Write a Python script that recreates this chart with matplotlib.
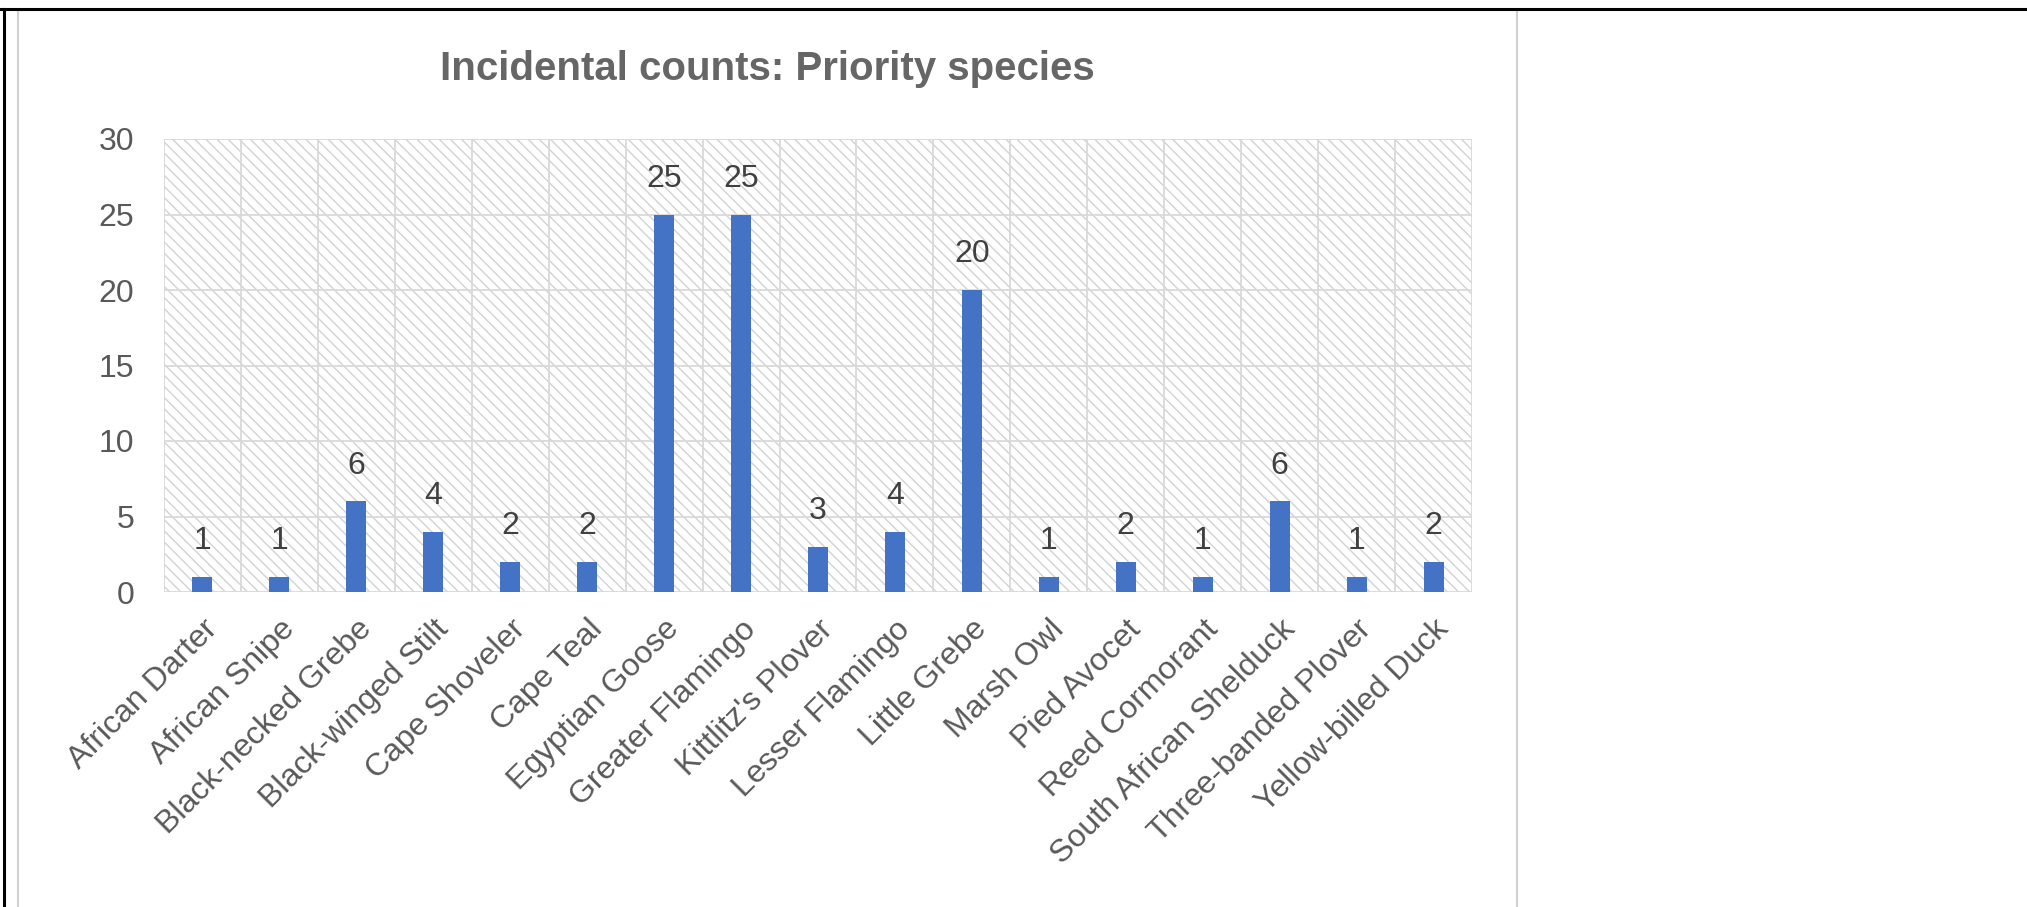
import matplotlib
matplotlib.use("Agg")
import numpy as np
from matplotlib import pyplot as plt
from matplotlib.patches import Rectangle
from matplotlib.lines import Line2D

species = ["African Darter", "African Snipe", "Black-necked Grebe", "Black-winged Stilt",
           "Cape Shoveler", "Cape Teal", "Egyptian Goose", "Greater Flamingo",
           "Kittlitz's Plover", "Lesser Flamingo", "Little Grebe", "Marsh Owl",
           "Pied Avocet", "Reed Cormorant", "South African Shelduck",
           "Three-banded Plover", "Yellow-billed Duck"]
counts = [1, 1, 6, 4, 2, 2, 25, 25, 3, 4, 20, 1, 2, 1, 6, 1, 2]
yticks = [0, 5, 10, 15, 20, 25, 30]

plt.rcParams['font.family'] = ['Liberation Sans', 'DejaVu Sans']
plt.rcParams['hatch.linewidth'] = 1.0

W, H = 2027, 907
fig = plt.figure(figsize=(W / 100, H / 100), dpi=100)

# chart panel and outer frame
fig.add_artist(Rectangle((18 / W, -0.05), (1517 - 18) / W, 1 - 10 / H + 0.05,
                         transform=fig.transFigure, facecolor='white',
                         edgecolor='#d0d0d0', linewidth=1.5, zorder=0))
fig.add_artist(Line2D([0, 1], [1 - 9 / H, 1 - 9 / H], transform=fig.transFigure,
                      color='black', linewidth=2.2, zorder=5))
fig.add_artist(Line2D([4 / W, 4 / W], [0, 1 - 9 / H], transform=fig.transFigure,
                      color='black', linewidth=2.2, zorder=5))

left, right, top, bottom = 164, 1472, 139, 592
ax = fig.add_axes([left / W, 1 - bottom / H, (right - left) / W, (bottom - top) / H])

x = np.arange(len(species))
# light diagonal pattern behind the plot area
ax.add_patch(Rectangle((0, 0), 1, 1, transform=ax.transAxes, facecolor='none',
                       edgecolor='#d2d2d2', hatch='\\\\\\', linewidth=0, zorder=0))
bars = ax.bar(x, counts, width=0.26, color='#4472C4', zorder=3)
ax.bar_label(bars, padding=15, fontsize=23, color='#404040')

ax.set_xlim(-0.5, len(species) - 0.5)
ax.set_ylim(0, 30)
ax.set_yticks(yticks)
ax.set_yticklabels([str(v) for v in yticks], fontsize=23, color='#595959')
ax.set_xticks(x)
ax.set_xticklabels(species, fontsize=23, color='#595959', rotation=45,
                   ha='right', va='top', rotation_mode='anchor')
ax.set_xticks(np.arange(-0.5, len(species), 1), minor=True)
ax.tick_params(axis='both', which='both', length=0)
ax.tick_params(axis='y', pad=21.5)
ax.tick_params(axis='x', pad=16)
ax.grid(axis='y', which='major', color='#d9d9d9', linewidth=1.3, zorder=1)
ax.grid(axis='x', which='minor', color='#d9d9d9', linewidth=1.3, zorder=1)
ax.grid(axis='x', which='major', visible=False)
ax.set_axisbelow(True)
for s in ax.spines.values():
    s.set_visible(False)
ax.patch.set_alpha(0)

fig.text(767 / W, 1 - 80 / H, "Incidental counts: Priority species", fontsize=29,
         fontweight='bold', color='#666666', ha='center', va='baseline')

plt.savefig('out.png', dpi=100)
